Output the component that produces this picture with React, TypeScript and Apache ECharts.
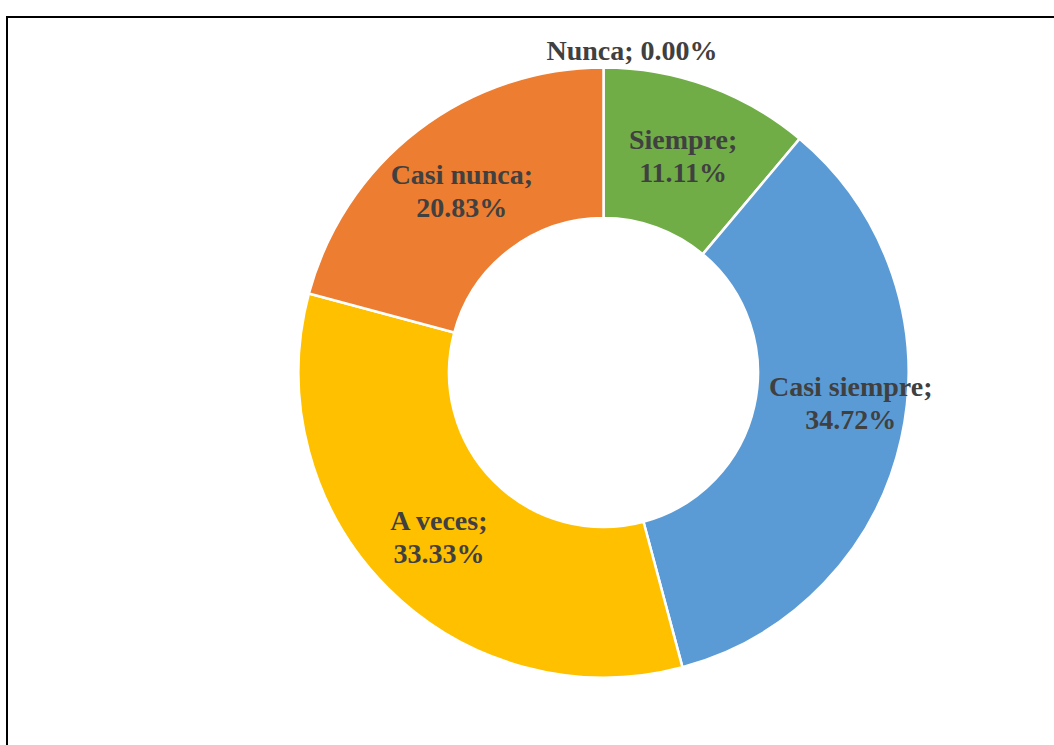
import React, { useEffect, useRef } from "react";
import * as echarts from "echarts";

const categories = ["Nunca", "Siempre", "Casi siempre", "A veces", "Casi nunca"];
const values = [0.0, 11.11, 34.72, 33.33, 20.83];
const colors = ["#A5A5A5", "#70AD47", "#5B9BD5", "#FFC000", "#ED7D31"];
const labelOffsets: [number, number][] = [
  [28.5, -89],
  [0, 2],
  [20, -20],
  [0, 0],
  [0, 3],
];

export default function App() {
  const ref = useRef<HTMLDivElement>(null);
  useEffect(() => {
    if (!ref.current) return;
    const chart = echarts.init(ref.current, undefined, { renderer: "svg" });
    const font = "'Times New Roman', 'Liberation Serif', serif";
    chart.setOption({
      animation: false,
      backgroundColor: "#ffffff",
      graphic: [
        {
          type: "rect",
          shape: { x: 7, y: 17, width: 1100, height: 800 },
          style: { fill: "none", stroke: "#000000", lineWidth: 2 },
          z: 10,
        },
      ],
      series: [
        {
          type: "pie",
          center: [603.5, 372.5],
          radius: [154.5, 305],
          startAngle: 90,
          clockwise: true,
          avoidLabelOverlap: false,
          minShowLabelAngle: 0,
          itemStyle: { borderColor: "#ffffff", borderWidth: 2.5 },
          label: {
            show: true,
            position: "inside",
            color: "#404040",
            fontFamily: font,
            fontWeight: "bold",
            fontSize: 28,
            lineHeight: 33,
            align: "center",
            formatter: (p: any) =>
              p.dataIndex === 0
                ? `${p.name}; ${Number(p.value).toFixed(2)}%`
                : `${p.name};\n${Number(p.value).toFixed(2)}%`,
          },
          labelLine: { show: false },
          data: categories.map((name, i) => ({
            name,
            value: values[i],
            itemStyle: { color: colors[i] },
            label: { offset: labelOffsets[i] },
          })),
        },
      ],
    });
    return () => chart.dispose();
  }, []);
  return (
    <div
      ref={ref}
      style={{ position: "fixed", left: 0, top: 0, width: 1054, height: 745 }}
    />
  );
}
